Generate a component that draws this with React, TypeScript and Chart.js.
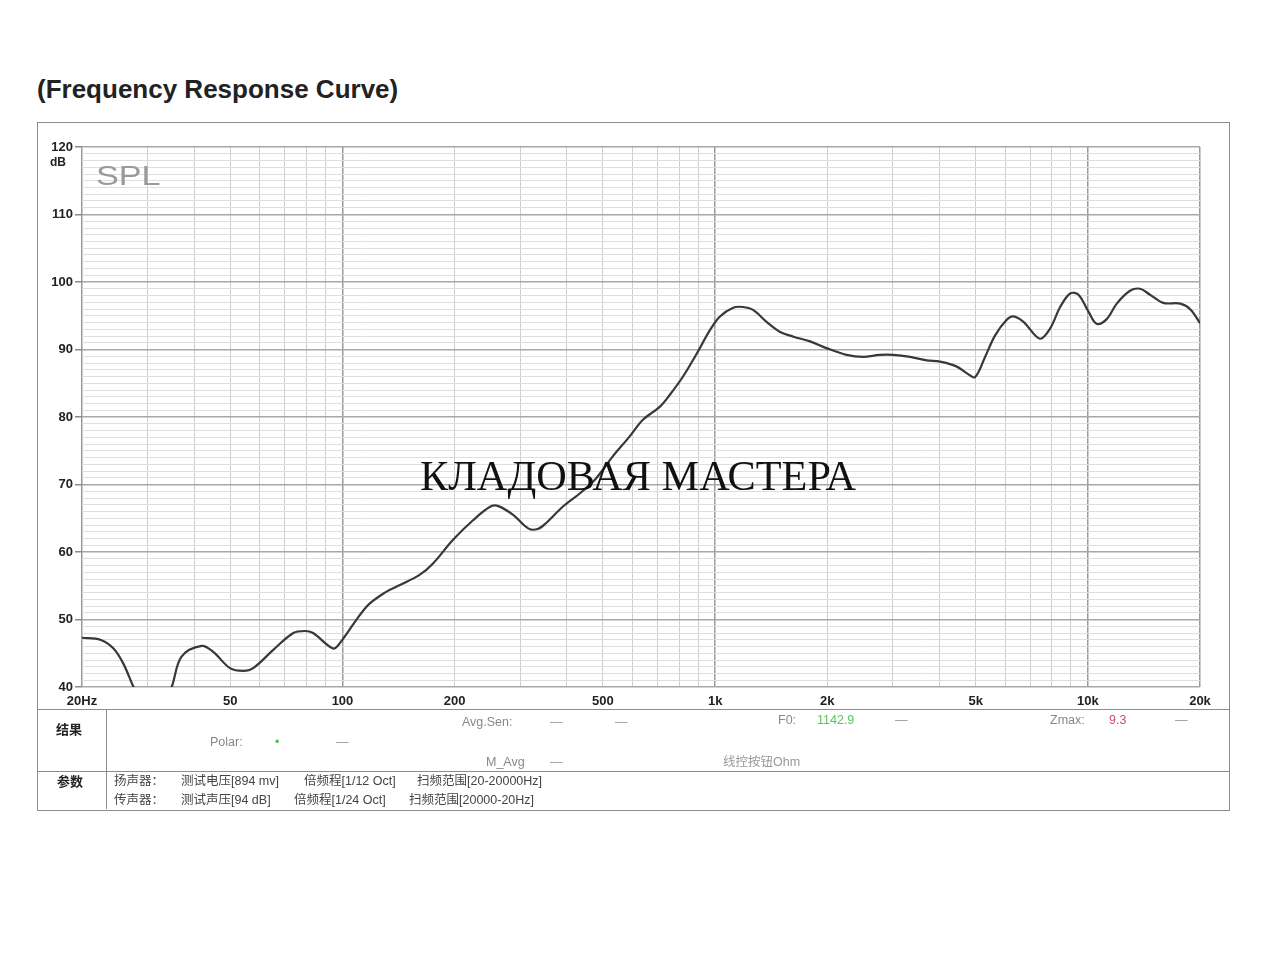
import React, { useRef, useEffect } from 'react';
import { Chart, registerables } from 'chart.js';

Chart.register(...registerables);

// measured curve (Hz, dB)
const FREQS = [
    20, 22.4, 24.3, 25.8, 27.5, 29, 33, 34.8, 37, 41.9, 45, 49.9, 54.2, 57.6, 65.2, 73.8, 79.3, 83.4,
    94.4, 98.4, 116, 131, 142.6, 161, 175, 198, 224, 249, 262, 287, 315, 334, 352, 390, 434, 479,
    530, 589, 640, 710, 756, 820, 893, 969, 1030, 1118, 1187, 1261, 1374, 1494, 1622, 1798, 1990,
    2252, 2496, 2766, 3006, 3336, 3694, 4012, 4441, 4730, 4980, 5300, 5640, 6060, 6310, 6718,
    7440, 7920, 8430, 8970, 9440, 10040, 10560, 11240, 11960, 12980, 13800, 14700, 15940, 17720,
    18880, 20000,
];
const SPL = [
    47.3, 47.0, 45.7, 43.5, 40.0, 37.5, 37.5, 40.0, 44.5, 46.1, 45.2, 42.8, 42.4, 42.8, 45.5, 48.0, 48.3, 48.0,
    45.7, 46.5, 51.9, 54.1, 55.1, 56.6, 58.3, 61.8, 64.7, 66.7, 66.8, 65.5, 63.5, 63.4, 64.3, 66.7, 68.7, 70.9,
    74.1, 77.1, 79.6, 81.5, 83.3, 86.0, 89.4, 92.9, 94.9, 96.2, 96.3, 95.9, 94.1, 92.6, 91.9, 91.2, 90.2,
    89.2, 88.9, 89.2, 89.2, 88.9, 88.4, 88.2, 87.5, 86.5, 85.9, 88.9, 92.1, 94.4, 94.9, 94.1,
    91.6, 93.1, 96.3, 98.3, 98.1, 95.6, 93.8, 94.5, 96.8, 98.7, 99.0, 98.1, 96.9, 96.8,
    95.9, 93.9,
];

// vertical grid lines and the ones that carry a label
const GRID_FREQS = [
    20, 30, 40, 50, 60, 70, 80, 90, 100, 200, 300, 400, 500, 600, 700, 800, 900,
    1000, 2000, 3000, 4000, 5000, 6000, 7000, 8000, 9000, 10000, 20000,
];
const X_LABEL_VALUES = [20, 50, 100, 200, 500, 1000, 2000, 5000, 10000, 20000];
const X_LABELS = ['20Hz', '50', '100', '200', '500', '1k', '2k', '5k', '10k', '20k'];
const X_MAJOR = [20, 100, 1000, 10000, 20000];

const Y_MIN = 40;
const Y_MAX = 120;

const labelFont = '"Liberation Sans", Arial, sans-serif';
const cjkFont = '"Liberation Sans", Arial, "Noto Sans CJK SC", sans-serif';

const FrequencyChart: React.FC = () => {
    const chartRef = useRef<HTMLCanvasElement>(null);

    useEffect(() => {
        const ctx = chartRef.current?.getContext('2d');
        if (!ctx) return;

        const extraText = {
            id: 'extraText',
            afterDraw(chart: any) {
                const c = chart.ctx;
                const area = chart.chartArea;
                c.save();
                c.fillStyle = '#222';
                c.font = `bold 12px ${labelFont}`;
                c.textAlign = 'right';
                c.textBaseline = 'middle';
                c.fillText('dB', area.left - 16, area.top + 16);
                c.restore();

                // SPL label, a little stretched like the source
                c.save();
                c.translate(area.left + 14, area.top + 30);
                c.scale(1.22, 1);
                c.fillStyle = '#9a9a9a';
                c.font = `28px ${labelFont}`;
                c.textAlign = 'left';
                c.textBaseline = 'middle';
                c.fillText('SPL', 0, 0);
                c.restore();
            },
        };

        const chart = new Chart(ctx, {
            type: 'line',
            data: {
                datasets: [
                    {
                        label: 'SPL',
                        data: FREQS.map((f, i) => ({ x: f, y: SPL[i] })),
                        borderColor: '#383838',
                        borderWidth: 2.2,
                        pointRadius: 0,
                        fill: false,
                        tension: 0.35,
                    },
                ],
            },
            options: {
                animation: false,
                responsive: false,
                layout: { padding: { top: 25, right: 29, left: 0, bottom: 0 } },
                plugins: {
                    legend: { display: false },
                    title: { display: false },
                    tooltip: { enabled: false },
                },
                scales: {
                    x: {
                        type: 'logarithmic',
                        min: 20,
                        max: 20000,
                        afterBuildTicks: (axis: any) => {
                            axis.ticks = GRID_FREQS.map(v => ({ value: v }));
                        },
                        afterFit: (axis: any) => {
                            axis.height = 23;
                        },
                        ticks: {
                            autoSkip: false,
                            maxRotation: 0,
                            minRotation: 0,
                            padding: 7,
                            color: '#222',
                            font: { family: labelFont, size: 13, weight: 'bold' },
                            callback: (value: any) => {
                                const idx = X_LABEL_VALUES.indexOf(Number(value));
                                return idx >= 0 ? X_LABELS[idx] : '';
                            },
                        },
                        grid: {
                            drawTicks: false,
                            color: (c: any) => (X_MAJOR.includes(c.tick?.value) ? '#9a9a9a' : '#cfcfcf'),
                            lineWidth: (c: any) => (X_MAJOR.includes(c.tick?.value) ? 1.5 : 1),
                        },
                        border: { display: false },
                    },
                    y: {
                        min: Y_MIN,
                        max: Y_MAX,
                        afterFit: (axis: any) => {
                            axis.width = 45;
                        },
                        ticks: {
                            stepSize: 1,
                            autoSkip: false,
                            padding: 2,
                            color: '#222',
                            font: { family: labelFont, size: 13, weight: 'bold' },
                            callback: (value: any) => (Number(value) % 10 === 0 ? String(value) : ''),
                        },
                        grid: {
                            drawTicks: true,
                            tickLength: 7,
                            tickColor: (c: any) => (c.tick?.value % 10 === 0 ? '#8a8a8a' : 'transparent'),
                            color: (c: any) => (c.tick?.value % 10 === 0 ? '#a8a8a8' : '#dedede'),
                            lineWidth: (c: any) => (c.tick?.value % 10 === 0 ? 1.5 : 1),
                        },
                        border: { display: false },
                    },
                },
            },
            plugins: [extraText],
        } as any);

        return () => chart.destroy();
    }, []);

    return (
        <canvas
            ref={chartRef}
            width={1192}
            height={588}
            style={{ position: 'absolute', left: 37, top: 122, width: 1192, height: 588 }}
        />
    );
};

type Cell = { text: string; x: number; y: number; color?: string; bold?: boolean; size?: number };

const TABLE_TEXT: Cell[] = [
    { text: '结果', x: 56, y: 730, color: '#222', bold: true, size: 13 },
    { text: 'Polar:', x: 210, y: 742, color: '#888' },
    { text: '•', x: 275, y: 742, color: '#4cc24c' },
    { text: '—', x: 336, y: 742, color: '#999' },
    { text: 'Avg.Sen:', x: 462, y: 722, color: '#888' },
    { text: '—', x: 550, y: 722, color: '#999' },
    { text: '—', x: 615, y: 722, color: '#999' },
    { text: 'M_Avg', x: 486, y: 762, color: '#888' },
    { text: '—', x: 550, y: 762, color: '#999' },
    { text: 'F0:', x: 778, y: 720, color: '#888' },
    { text: '1142.9', x: 817, y: 720, color: '#5cc45c' },
    { text: '—', x: 895, y: 720, color: '#999' },
    { text: '线控按钮Ohm', x: 723, y: 762, color: '#999' },
    { text: 'Zmax:', x: 1050, y: 720, color: '#888' },
    { text: '9.3', x: 1109, y: 720, color: '#c8506a' },
    { text: '—', x: 1175, y: 720, color: '#999' },
    { text: '参数', x: 57, y: 782, color: '#222', bold: true, size: 13 },
    { text: '扬声器：', x: 114, y: 781, color: '#444' },
    { text: '测试电压[894 mv]', x: 181, y: 781, color: '#444' },
    { text: '倍频程[1/12 Oct]', x: 304, y: 781, color: '#444' },
    { text: '扫频范围[20-20000Hz]', x: 417, y: 781, color: '#444' },
    { text: '传声器：', x: 114, y: 800, color: '#444' },
    { text: '测试声压[94 dB]', x: 181, y: 800, color: '#444' },
    { text: '倍频程[1/24 Oct]', x: 294, y: 800, color: '#444' },
    { text: '扫频范围[20000-20Hz]', x: 409, y: 800, color: '#444' },
];

const line = (left: number, top: number, width: number, height: number): React.CSSProperties => ({
    position: 'absolute',
    left,
    top,
    width,
    height,
    background: '#8c8c8c',
});

const App: React.FC = () => {
    return (
        <div style={{ position: 'absolute', left: 0, top: 0, width: 1280, height: 960, background: '#fff' }}>
            <div
                style={{
                    position: 'absolute',
                    left: 37,
                    top: 73,
                    fontFamily: labelFont,
                    fontWeight: 'bold',
                    fontSize: 26,
                    lineHeight: '32px',
                    color: '#222',
                    whiteSpace: 'nowrap',
                }}
            >
                (Frequency Response Curve)
            </div>

            <FrequencyChart />

            {/* outer box and table rules */}
            <div
                style={{
                    position: 'absolute',
                    left: 37,
                    top: 122,
                    width: 1191,
                    height: 687,
                    border: '1px solid #8c8c8c',
                    pointerEvents: 'none',
                }}
            />
            <div style={line(37, 709, 1192, 1)} />
            <div style={line(37, 771, 1192, 1)} />
            <div style={line(106, 709, 1, 100)} />

            {TABLE_TEXT.map((c, i) => (
                <span
                    key={i}
                    style={{
                        position: 'absolute',
                        left: c.x,
                        top: c.y - 8,
                        lineHeight: '16px',
                        fontSize: c.size ?? 12.5,
                        fontWeight: c.bold ? 'bold' : 'normal',
                        fontFamily: cjkFont,
                        color: c.color,
                        whiteSpace: 'nowrap',
                    }}
                >
                    {c.text}
                </span>
            ))}

            <svg
                width={1280}
                height={960}
                style={{ position: 'absolute', left: 0, top: 0, pointerEvents: 'none' }}
            >
                <text
                    x={420}
                    y={490}
                    fontSize={42}
                    fontFamily='"Liberation Serif", "DejaVu Serif", serif'
                    fill="#111"
                    textLength={436}
                    lengthAdjust="spacingAndGlyphs"
                >
                    КЛАДОВАЯ МАСТЕРА
                </text>
            </svg>
        </div>
    );
};

export default App;
